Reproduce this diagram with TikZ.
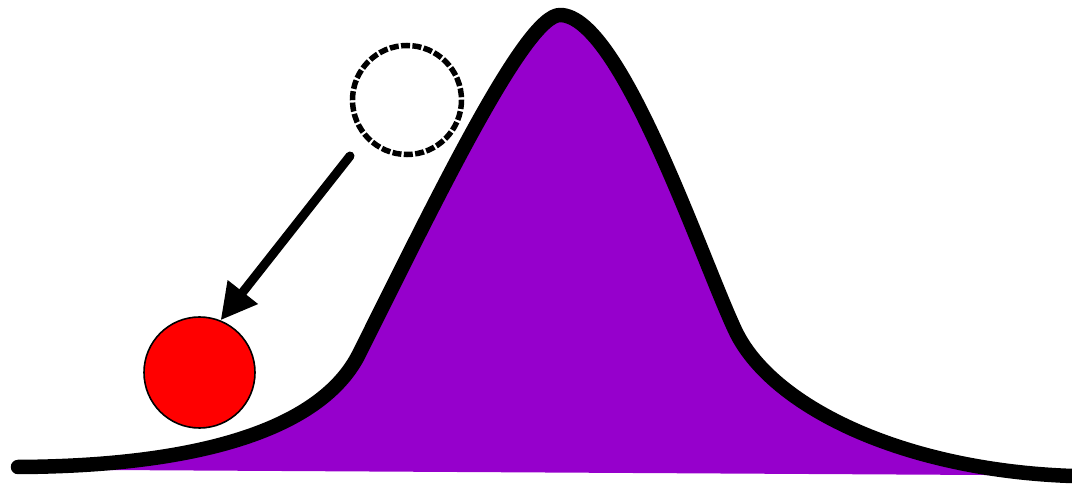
\documentclass[tikz,border=0pt]{standalone}
\usepackage{tikz}
\usetikzlibrary{arrows.meta}
\definecolor{bellpurple}{RGB}{150,0,204}

\begin{document}
\begin{tikzpicture}[
      x=1pt, y=-1pt,
      hill/.style={fill=bellpurple},
      bell/.style={draw=black, line width=14.5pt, line cap=round, line join=round},
      ghost/.style={circle, inner sep=0pt, minimum size=109pt},
      ghostline/.style={line width=5.5pt, dash pattern=on 9pt off 2.4pt},
      ball/.style={circle, draw, fill=red, inner sep=0pt, minimum size=111pt, line width=1.6pt},
      push/.style={-{Triangle[length=36pt, width=36pt]}, line width=9pt, line cap=round}
    ]
    \useasboundingbox (0,0) rectangle (1072,486);

    % area under the curve
    \fill[hill] (18,469.5) -- (18,467)
      .. controls (210,466) and (325,425) .. (360,352)
      .. controls (435,202) and (525,15) .. (560,15)
      .. controls (620,15) and (700,255) .. (735,330)
      .. controls (770,405) and (900,470) .. (1072,476)
      -- (1072,475.5) -- cycle;
    \draw[bell] (18,467)
      .. controls (210,466) and (325,425) .. (360,352)
      .. controls (435,202) and (525,15) .. (560,15)
      .. controls (620,15) and (700,255) .. (735,330)
      .. controls (770,405) and (900,470) .. (1072,476);

    \node[ghost] (before) at (407,100) {};
    \draw[ghostline] (before.center) circle[radius=54.5];
    \node[ball] (after) at (199.5,372.5) {};
    \coordinate (start) at (350,156);

    \draw[push] (start) -- (after.68);
  \end{tikzpicture}
\end{document}
